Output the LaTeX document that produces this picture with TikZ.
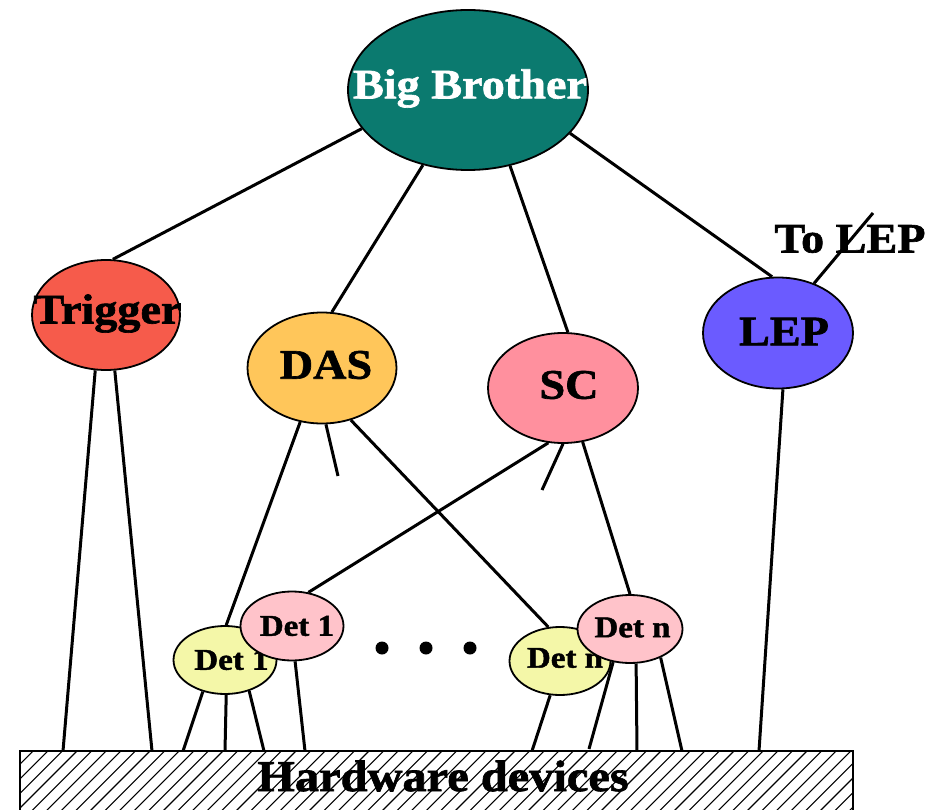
\documentclass[tikz,border=0pt]{standalone}
\usepackage{fontspec}
\setmainfont{Liberation Serif}[FakeStretch=1.1, BoldFeatures={FakeBold=1.5}]
\usetikzlibrary{shapes.geometric,backgrounds}
\definecolor{bbcol}{HTML}{0B7A6F}
\definecolor{trigcol}{HTML}{F65B4B}
\definecolor{dascol}{HTML}{FFC65A}
\definecolor{sccol}{HTML}{FF909E}
\definecolor{lepcol}{HTML}{6B5BFF}
\definecolor{detY}{HTML}{F4F7A8}
\definecolor{detP}{HTML}{FFC3CA}
\begin{document}
\begin{tikzpicture}[x=1pt,y=-1pt,
  ell/.style={ellipse, draw=black, line width=1.8pt, inner sep=0pt},
  big/.style={font=\fontsize{42}{42}\selectfont\bfseries},
  det/.style={font=\fontsize{30}{30}\selectfont\bfseries},
  conn/.style={line width=3pt},
  dot/.style={circle, fill=black, inner sep=0pt, minimum size=13pt}]
\useasboundingbox (0,0) rectangle (934,810);

% hardware box
\node[draw=none, minimum width=833pt, minimum height=62pt, inner sep=0pt, anchor=north west] (hw) at (20,751) {};
\begin{scope}
  \clip (hw.north west) rectangle (hw.south east);
  \foreach \i in {0,...,62} {
    \draw[line width=1.1pt] ({-60+\i*14.6},815) -- ++(75,-75);
  }
\end{scope}
\draw[line width=2pt] (hw.south west) -- (hw.north west) -- (hw.north east) -- (hw.south east);
\node[big, font=\fontsize{44}{44}\selectfont\bfseries] (hwt) at (443,776) {Hardware devices};

% main ellipses
\node[ell, fill=bbcol, minimum width=240pt, minimum height=160pt,
      label={[big, text=white, xshift=2pt, yshift=1.5pt]center:Big Brother}] (bb) at (468,90) {};
\node[ell, fill=trigcol, minimum width=148pt, minimum height=110pt,
      label={[big, xshift=1.5pt, yshift=1.5pt]center:Trigger}] (trig) at (106,315) {};
\node[ell, fill=dascol, minimum width=149pt, minimum height=111pt,
      label={[big, xshift=4pt, yshift=3pt]center:DAS}] (das) at (322,368) {};
\node[ell, fill=sccol, minimum width=150pt, minimum height=110pt,
      label={[big, xshift=6pt, yshift=3pt]center:SC}] (sc) at (563,388) {};
\node[ell, fill=lepcol, minimum width=150pt, minimum height=111pt,
      label={[big, xshift=6pt, yshift=1.5pt]center:LEP}] (lep) at (778,333) {};

\node[big] (tolep) at (850,239) {To LEP};

% detector ellipses
\node[ell, fill=detY, minimum width=103pt, minimum height=68pt,
      label={[det, xshift=6.5pt]center:Det 1}] (dy1) at (225,660) {};
\node[ell, fill=detP, minimum width=103pt, minimum height=69pt,
      label={[det, xshift=5pt]center:Det 1}] (dp1) at (292,626) {};
\node[ell, fill=detY, minimum width=101pt, minimum height=68pt,
      label={[det, xshift=5pt, yshift=3pt]center:Det n}] (dyn) at (560,661) {};
\node[ell, fill=detP, minimum width=105pt, minimum height=68pt,
      label={[det, xshift=2.5pt, yshift=1.5pt]center:Det n}] (dpn) at (630,629) {};

% dots
\node[dot] (d1) at (382,648) {};
\node[dot] (d2) at (426,648) {};
\node[dot] (d3) at (470,648) {};

% free ends
\coordinate (h1) at (63,751);
\coordinate (h2) at (152,751);
\coordinate (h3) at (183,751);
\coordinate (h4) at (225,751);
\coordinate (h5) at (264,751);
\coordinate (h6) at (305,751);
\coordinate (h7) at (532,751);
\coordinate (h8) at (589,749);
\coordinate (h9) at (637,751);
\coordinate (h10) at (682,751);
\coordinate (h11) at (759,751);
\coordinate (s1) at (338,476);
\coordinate (s2) at (542,490);
\coordinate (tl) at (873,213);

\begin{pgfonlayer}{background}
\draw[conn] (bb.200) -- (trig.83);
\draw[conn] (bb.239) -- (das.80);
\draw[conn] (bb.299) -- (sc.85);
\draw[conn] (bb.337) -- (lep.96);
\draw[conn] (lep.54) -- (tl);
\draw[conn] (trig.259) -- (h1);
\draw[conn] (trig.279) -- (h2);
\draw[conn] (das.248) -- (dy1.88);
\draw[conn] (das.274) -- (s1);
\draw[conn] (das.299) -- (dyn.109);
\draw[conn] (sc.255) -- (dp1.64);
\draw[conn] (sc.270) -- (s2);
\draw[conn] (sc.290) -- (dpn.90);
\draw[conn] (lep.275) -- (h11);
\draw[conn] (dy1.235) -- (h3);
\draw[conn] (dy1.272) -- (h4);
\draw[conn] (dy1.308) -- (h5);
\draw[conn] (dp1.275) -- (h6);
\draw[conn] (dyn.254) -- (h7);
\draw[conn] (dpn.243) -- (h8);
\draw[conn] (dpn.280) -- (h9);
\draw[conn] (dpn.317) -- (h10);
\end{pgfonlayer}
\end{tikzpicture}
\end{document}
